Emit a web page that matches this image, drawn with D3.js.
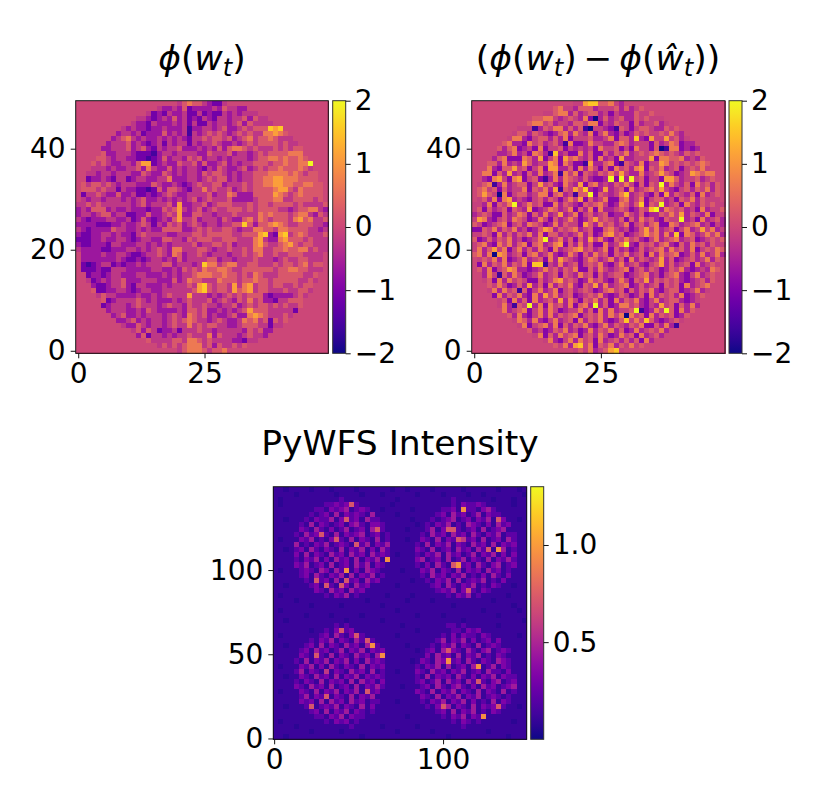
<!DOCTYPE html>
<html><head><meta charset="utf-8">
<script src="https://cdn.jsdelivr.net/npm/d3@7"></script>
<style>html,body{margin:0;background:#fff}svg{display:block}text{font-family:"DejaVu Sans",sans-serif;fill:#000}</style>
</head><body><svg id="c" width="823" height="810"></svg>
<script>
// Cell values are estimates (top row first). The
// intensity image is transcribed on a coarser 50x50 grid, not its 150x150 pixels.
// '.' = exactly 0, digits index the level arrays below.
const phaseLevels = [-2,-1.56,-1.11,-0.67,-0.22,0.22,0.67,1.11,1.56,2];
const errorLevels = [-2,-1.6,-0.9,-0.5,-0.1,0.25,0.7,1.1,1.5,2];
const intensityLevels = [0.07,0.11,0.22,0.33,0.45,0.58,0.72,0.95,1.1,1.25];
const phaseRows = [
".......... .......... 4565543224 .......... ..........",
".......... ......4334 3523333435 4433...... ..........",
".......... ....423243 3422423224 343444.... ..........",
".......... ..44323435 3423243244 34453544.. ..........",
".......... .433243334 3424224344 345354444. ..........",
".........4 3433233433 3413344345 3345455587 8.........",
"........34 4342333534 3414345454 3454544667 65........",
".......345 6434334343 4324454554 5345645565 444.......",
"......3444 5343234243 4424344543 3434545555 4544......",
".....33444 5345324344 5333434353 5665454445 45455.....",
".....53344 4322213443 4444335444 5344345455 55666.....",
"....554344 3322123534 4354534434 3444345566 565565....",
"...5454334 4357723433 5445353345 3434455545 5655669...",
"...4443433 4453643353 4344324354 3345345455 6555654...",
"..44344344 4335433543 4344354554 3434455566 66565455..",
"..23343244 2344334463 3344345455 3434455667 76665555..",
".545545434 4433354334 3234544553 4445455667 766556655.",
".555454424 3322125355 4324464544 5345455556 775465555.",
".244543353 3422323454 3344445344 6533355557 654565555.",
".434434443 4345334343 4345345444 5333345556 644555545.",
"4454544444 4345344453 7334453455 5444545545 5554544445",
"3435553433 4333233545 7434534544 5554545555 4434556643",
"3443455344 2233533454 7335544344 4544446565 5545664354",
"4323334433 4235323435 7445344435 4335646545 5546756445",
"3333222334 3345424354 5345434434 4558535567 6544555443",
"4323333544 3343433555 5334545445 5434466554 6655554434",
"3223344343 3245444433 4445545555 5445557832 7845654445",
"2223343344 3234433554 4354555445 5544467433 6755545444",
"3223332443 3344343434 4445344554 5344467544 5675455444",
"4333322333 4434345436 6444554344 5445466445 5655664544",
".333343344 3223445436 5344543444 3445456445 445554444.",
".333333343 2232344343 5344445534 4344454443 454455444.",
".212344232 3343444553 4443486645 6644554445 455456455.",
".222322444 3333344334 3545465566 5445555554 556655444.",
"..23323443 3344333434 3445666556 5545465444 55555445..",
"..42343445 3334443335 3465544465 5545565545 55554454..",
"...3223445 3244333434 4454785455 4746745545 5445455...",
"...5223344 3234433444 4445785455 4756745544 4544554...",
"....454433 3343343454 4474443434 5454555323 333454....",
".....52344 4454343334 3454445345 4354645332 44555.....",
".....23444 3454443454 4354454434 4534545545 45445.....",
"......3444 3343543333 4355453343 4345755544 4442......",
".......345 3343444345 4365453433 4533676544 454.......",
"........33 4534344345 4565443454 3346564525 45........",
".........4 3354344345 4464545544 3345554424 4.........",
".......... .453542334 2444544344 444354533. ..........",
".......... ..35244343 4454446354 44345443.. ..........",
".......... ....544445 5466545444 433244.... ..........",
".......... ......4545 4566645354 4545...... ..........",
".......... .......... 4566654556 .......... .........."];
const errorRows = [
".......... .......... 4478855643 .......... ..........",
".......... ......5644 3555344453 5345...... ..........",
".......... ....445663 5345534243 335445.... ..........",
".......... ..55664345 4362035345 33545444.. ..........",
".......... .566453443 5546624354 425344534. ..........",
".........4 4413546635 3510443215 4245543354 5.........",
"........45 5354323563 6436246324 2354544546 43........",
".......466 3245535362 4445334625 5383274474 534.......",
"......5633 2645345316 2236443356 5344425346 5233......",
".....53562 3426244524 3434264452 4264425016 62323.....",
".....33463 4265318342 2635225354 6345456545 43545.....",
"....356222 6537246275 6435263427 3344472665 563435....",
"...5536343 7534476264 2217335621 5436244764 5454565...",
"...6325574 5246277335 2636425264 5367254634 5245464...",
"..66253734 2536346164 6254354647 4336345754 23476566..",
"..32674267 2452136365 4353223929 3945244277 53445345..",
".456136345 5247453264 3725634354 6425254936 435264535.",
".564525344 6254637154 7583237345 2634564743 245354635.",
".575406245 5346625634 1559254346 8345325273 543526345.",
".453626734 3245354246 4725346225 6346245534 254635444.",
"4436254693 4645226354 3254564236 5358254934 5264354544",
"4525345254 3723465346 2536263345 4235489365 4534263445",
"3454225346 5253634734 6245345233 6435233546 4735436244",
"4763245365 4236425346 4235745435 2536453254 4934263453",
"5423456245 3654236354 4275364534 6245356226 5345634243",
"2254635463 4235763545 6345225643 4235746345 2463474634",
"4454263535 4636255343 4635236745 2345756363 8265346463",
"5235354634 2346934635 2537463254 6453246345 6345234545",
"4563264635 6256346725 3635226346 9325453563 2536453544",
"4635746246 3536426345 6745346253 4235345636 4536245465",
"5636076345 2563463236 4253645254 6345263645 6235363463",
".454636234 6345263754 3246534635 2635434735 234534635.",
".263546354 6288143634 5245463246 3453245735 345263454.",
".536245763 3234645354 6225364345 6245354235 463234365.",
"..36415364 2346345254 3645253455 2345634245 63246345..",
"..45263645 4225346745 4236453246 4254735454 53234535..",
"...5464235 3735263546 3254736345 6235345254 5263456...",
"...4636451 5246346245 3454235645 2535463245 5234634...",
"....263546 3263746345 2345463235 4235263545 362345....",
".....45263 5263453736 4254635263 5463246345 53234.....",
".....46315 4936264536 2563935236 6453243745 25363.....",
"......6345 6246364234 4635263634 4591236495 2635......",
".......536 3246363545 6245463646 0645263545 235.......",
"........46 5363246345 2635463235 8464853234 54........",
".........4 6245636253 5463246354 3546225363 1.........",
".......... .534235463 4236354635 236345463. ..........",
".......... ..46253645 6245364236 45263453.. ..........",
".......... ....463246 3645263453 535263.... ..........",
".......... ......5463 7846254635 4645...... ..........",
".......... .......... 4546345784 .......... .........."];
const intensityRows = [
"1101111011 1011110111 1110110111 1011111011 1111011101",
"1111011111 1101111011 1011111101 1110111101 1011111110",
"1011111111 1112111111 1111011111 1111121111 1110111011",
"1011111111 2232362111 1110111111 1111121322 3211111011",
"1111111122 1323412321 1011111011 1112231722 1342111111",
"1111111212 3141323214 1111011111 1123142312 4132211111",
"1101112132 2413623142 2111111011 1212341231 3241631101",
"1111121413 2123134213 3211111101 2132412143 2131423111",
"1111132142 1312412314 6211110111 2413662123 1412341111",
"1111214236 2141323412 3121111112 1423142314 2132412211",
"1011132412 1362141321 4121110113 2141326523 1412314211",
"1111412132 4123216241 3241111121 4132413214 2314132311",
"1101231421 3214132413 1421111132 1412314231 4261741211",
"1111314132 1423142314 2321011121 3241423124 1324131311",
"1111213241 3142314132 4171111134 1231412413 2141324211",
"1111324123 1412314241 3211111121 3142167231 4213412311",
"1011123214 3142713143 2111101113 2413214132 3142312111",
"1111123142 1324141324 1211111112 1423132412 1314213111",
"1111112162 3141623142 3111111011 2132414123 2412131111",
"1101111231 6216314231 1111011111 1231421324 1213211011",
"1111111132 1423142311 1111111111 1123241362 1321111111",
"1011111111 2132412111 1101111011 1111213241 2111110111",
"1111011111 1111111101 1111110111 1011111111 1110111111",
"1111111011 1110111111 1011111111 1111101111 1111111011",
"1011111111 1111111111 1111011111 1111111111 1011111101",
"1111110111 1011111011 1111111101 1110111111 1111011111",
"1101111111 1111011111 1011111111 1111111011 1111111110",
"1111111111 1121211111 1111101111 1111221211 1111011111",
"1111111011 2136231111 1111111101 1111122132 3111111111",
"1011111112 3142136211 1111011111 1112131322 1321111101",
"1111111213 2413214262 1111111111 1124132413 1231311111",
"1101112314 1321423147 2111110111 1213241321 4123211111",
"1111123142 3124132413 2311111101 2314632142 1341232111",
"1111132162 1413214231 4711111111 3142314132 4121321111",
"1111214132 4132413142 3211111013 2143723142 1321432111",
"1011132413 1421321413 2311111121 3241412314 7124132111",
"1111241321 5132142314 1211011132 1423132412 3142213111",
"1101132142 3141324132 3211111121 4132314213 1324132211",
"1111213214 1323141423 1311111123 1241423142 6213412311",
"1111321423 1412314132 4211101112 3142134213 1423123411",
"1011132141 3241324162 3111111132 1413241321 4132141211",
"1111124132 6132141324 1111111113 2141324132 4123212111",
"1111132314 1423142312 2111011112 1324132413 1214132111",
"1101112612 3241321413 1111111111 2136413214 1323621101",
"1111111231 4132413212 1111111111 1123141324 1213211111",
"1111111122 1324132211 1111110111 1112132413 2711111111",
"1011111111 2132312111 1111111111 1111121321 2111111011",
"1111011111 1111121111 1011111101 1111111211 1111111111",
"1111111011 1110111111 1111011111 1011111111 1101111111",
"1101111111 1111111011 1111111111 1111011111 1111110111"];
const phaseYTicks = [0,20,40], phaseXTicks = [0,25], phaseBarTicks = [-2,-1,0,1,2];
const intensityYTicks = [0,50,100], intensityXTicks = [0,100], intensityBarTicks = [0.5,1.0];
const phaseExtent = [-2,2], intensityExtent = [0,1.3];

const FS = 28, TS = 34.5;
const svg = d3.select("#c");
const defs = svg.append("defs");
const decode = (rows, levels) => rows.map(r => Array.from(r.replace(/\s/g,"")).map(ch => ch === "." ? 0 : levels[+ch]));
const intFmt = d => d3.format("d")(d).replace("-", "\u2212");

function panel(o) {
  const g = svg.append("g");
  const grid = decode(o.rows, o.levels), n = grid.length;
  const x = d3.scaleLinear().domain(o.xDomain).range([o.l, o.r]);
  const y = d3.scaleLinear().domain(o.yDomain).range([o.b, o.t]);
  const color = d3.scaleSequential(d3.interpolatePlasma).domain(o.extent);
  const span = o.yDomain[1] - o.yDomain[0], step = span / n;
  const cells = grid.flatMap((row, r) => row.map((v, c) => ({r, c, v})));
  g.append("g").attr("shape-rendering","crispEdges").style("filter","blur(0.4px)")
    .selectAll("rect").data(cells).join("rect")
    .attr("x", d => x(o.xDomain[0] + d.c * step))
    .attr("y", d => y(o.yDomain[1] - d.r * step))
    .attr("width", x(o.xDomain[0] + step) - x(o.xDomain[0]) + 0.6)
    .attr("height", y(o.yDomain[0]) - y(o.yDomain[0] + step) + 0.6)
    .attr("fill", d => color(d.v));
  g.append("rect").attr("x",o.l).attr("y",o.t).attr("width",o.r-o.l).attr("height",o.b-o.t)
    .attr("fill","none").attr("stroke","#111").attr("stroke-width",1);
  const style = a => { a.select(".domain").remove();
    a.selectAll("text").attr("font-size",FS).attr("font-family","DejaVu Sans").attr("fill","#000");
    a.selectAll("line").attr("stroke","#111").attr("stroke-width",1); };
  g.append("g").attr("transform",`translate(0,${o.b})`)
    .call(d3.axisBottom(x).tickValues(o.xTicks).tickSize(5).tickPadding(5).tickFormat(d3.format("d"))).call(style);
  g.append("g").attr("transform",`translate(${o.l},0)`)
    .call(d3.axisLeft(y).tickValues(o.yTicks).tickSize(5).tickPadding(5).tickFormat(d3.format("d"))).call(style);
  // colour bar
  const by = d3.scaleLinear().domain(o.extent).range([o.b, o.t]);
  const id = "grad" + o.id;
  const lg = defs.append("linearGradient").attr("id",id).attr("x1",0).attr("y1",1).attr("x2",0).attr("y2",0);
  d3.range(0,1.0001,0.05).forEach(f => lg.append("stop").attr("offset",f).attr("stop-color",d3.interpolatePlasma(f)));
  g.append("rect").attr("x",o.bl).attr("y",o.t).attr("width",o.bw).attr("height",o.b-o.t)
    .attr("fill",`url(#${id})`).attr("stroke","#333").attr("stroke-width",1);
  g.append("g").attr("transform",`translate(${o.bl+o.bw},0)`)
    .call(d3.axisRight(by).tickValues(o.barTicks).tickSize(5).tickPadding(4).tickFormat(o.barFormat)).call(style);
  return g;
}

const phaseCommon = {extent:phaseExtent, xDomain:[-0.5,49.5], yDomain:[-0.5,49.5],
  t:100.7, b:353.3, bw:13, xTicks:phaseXTicks, yTicks:phaseYTicks, barTicks:phaseBarTicks, barFormat:intFmt};
panel({...phaseCommon, id:1, rows:phaseRows, levels:phaseLevels, l:75.7, r:328.3, bl:332.7});
panel({...phaseCommon, id:2, rows:errorRows, levels:errorLevels, l:471.7, r:725, bl:729});
panel({id:3, rows:intensityRows, levels:intensityLevels, extent:intensityExtent, xDomain:[-0.5,149.5], yDomain:[-0.5,149.5],
  l:273.3, r:526.7, t:486.7, b:739.3, bl:530.7, bw:13, xTicks:intensityXTicks, yTicks:intensityYTicks, barTicks:intensityBarTicks, barFormat:d3.format(".1f")});

function mathTitle(cx, y, parts) {
  const t = svg.append("text").attr("x",cx).attr("y",y).attr("text-anchor","middle").attr("font-size",TS);
  parts.forEach(p => {
    const s = t.append("tspan").text(p.t);
    if (p.i) s.attr("font-style","italic");
    if (p.sub) s.attr("font-style","italic").attr("font-size",TS*0.7).attr("dy",6);
    if (p.up) s.attr("dy",-6);
  });
}
mathTitle(202, 70, [{t:"\u03D5",i:1},{t:"("},{t:"w",i:1},{t:"t",sub:1},{t:")",up:1}]);
mathTitle(598, 70, [{t:"("},{t:"\u03D5",i:1},{t:"("},{t:"w",i:1},{t:"t",sub:1},{t:")\u2009\u2212\u2009",up:1},{t:"\u03D5",i:1},{t:"("},{t:"\u0175",i:1},{t:"t",sub:1},{t:"))",up:1}]);
svg.append("text").attr("x",400).attr("y",455).attr("text-anchor","middle").attr("font-size",TS).text("PyWFS Intensity");
</script></body></html>
